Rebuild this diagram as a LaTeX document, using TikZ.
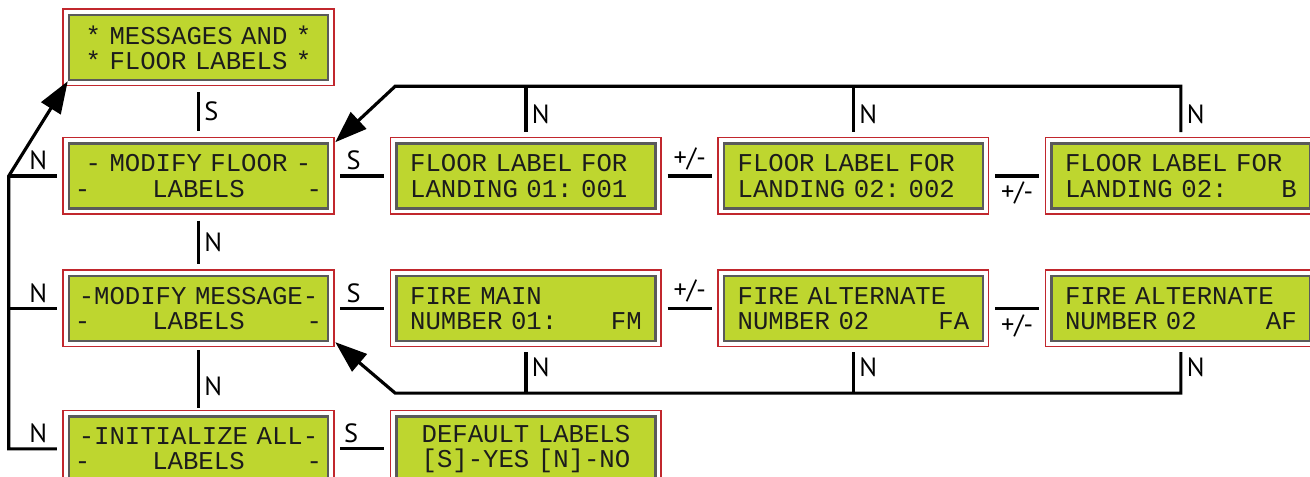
\documentclass[tikz,border=0pt]{standalone}
\usepackage{fontspec}
\setmainfont{PT Sans}
\newfontfamily\lcdfont[WordSpace={1,0,0}]{Liberation Mono}
\newcommand\lcdspacing{\frenchspacing\spaceskip=0.6em\relax}
\usetikzlibrary{positioning,calc,arrows.meta}
\definecolor{lcdred}{HTML}{C1272D}
\definecolor{lcdgreen}{HTML}{BED62F}
\definecolor{lcdframe}{HTML}{5A5A5A}
\definecolor{lcdtext}{HTML}{1C1C1C}

\begin{document}
\begin{tikzpicture}[
  node distance=1.26cm and 1.32cm,
  menubox/.style={rectangle, fill=lcdgreen, draw=lcdframe, line width=1.4pt,
    preaction={draw=lcdred, line width=7.4pt},
    preaction={draw=white, line width=5.7pt},
    minimum width=5.18cm, minimum height=1.3cm, inner sep=0pt,
    text width=140.6pt, align=center, text=lcdtext,
    font=\lcdfont\fontsize{14.6}{14.4}\selectfont\lcdspacing},
  valbox/.style={menubox, text width=131.8pt, align=left},
  line/.style={draw, line width=1.8pt},
  link/.style={line, shorten <=0.22cm, shorten >=0.22cm},
  arrow/.style={line, -{Triangle[length=0.64cm,width=0.45cm]}},
  lbl/.style={font=\fontsize{15}{16}\selectfont, inner sep=2.5pt}
]
\useasboundingbox (0,0) rectangle (26.2,-9.54);

% Menu column
\node[menubox] (msgs) at (3.97,-0.95) {* MESSAGES AND *\\{*} FLOOR LABELS *};
\node[menubox, below=1.22cm of msgs] (floor) {- MODIFY FLOOR -\\-\hfill LABELS\hfill-};
\node[menubox, below=1.3cm of floor] (message) {-MODIFY MESSAGE-\\-\hfill LABELS\hfill-};
\node[menubox, below=1.46cm of message] (init) {-INITIALIZE ALL-\\-\hfill LABELS\hfill-};

% Floor labels
\node[valbox, right=of floor] (fl1) {FLOOR LABEL FOR\\LANDING 01: 001};
\node[valbox, right=of fl1] (fl2) {FLOOR LABEL FOR\\LANDING 02: 002};
\node[valbox, right=of fl2] (fl3) {FLOOR LABEL FOR\\LANDING 02:\hfill B};

% Message labels
\node[valbox, right=of message] (ms1) {FIRE MAIN\\NUMBER 01:\hfill FM};
\node[valbox, right=of ms1] (ms2) {FIRE ALTERNATE\\NUMBER 02\hfill FA};
\node[valbox, right=of ms2] (ms3) {FIRE ALTERNATE\\NUMBER 02\hfill AF};

% Initialize
\node[valbox, right=of init, align=center] (dflt) {DEFAULT LABELS\\{[S]}-YES [N]-NO};

% Helper points
\coordinate[left=1.18cm of floor.west] (trunk);
\coordinate[left=1.18cm of init.west] (trunkend);
\coordinate[above=1.12cm of fl3.north] (looptr);
\coordinate[above=1.12cm of fl1.north west] (looptl);
\coordinate[below=1.02cm of ms3.south] (loopbr);
\coordinate[below=1.02cm of ms1.south west] (loopbl);

% Connectors down the menu
\draw[link] (msgs) -- node[lbl, right]{S} (floor);
\draw[link] (floor) -- node[lbl, right]{N} (message);
\draw[link, shorten <=0.16cm, shorten >=0.14cm] (message) -- node[lbl, right, pos=0.6]{N} (init);

% Left trunk
\draw[arrow, shorten <=0.22cm] (init.west) -- node[lbl, above]{N} (trunkend) -- (trunk) -- (msgs.south west);
\draw[line, shorten >=0.22cm] (trunk) -- node[lbl, above]{N} (floor);
\draw[line, shorten >=0.22cm] (trunk |- message) -- node[lbl, above]{N} (message);

% Floor row
\draw[link] (floor) -- node[lbl, above, pos=0.37]{S} (fl1);
\draw[link] (fl1) -- node[lbl, above]{+/-} (fl2);
\draw[link] (fl2) -- node[lbl, below]{+/-} (fl3);

% Message row
\draw[link] (message) -- node[lbl, above, pos=0.37]{S} (ms1);
\draw[link] (ms1) -- node[lbl, above]{+/-} (ms2);
\draw[link] (ms2) -- node[lbl, below]{+/-} (ms3);

% Initialize row
\draw[link] (init) -- node[lbl, above, pos=0.33]{S} (dflt);

% Top loop
\draw[arrow, shorten <=0.2cm] (fl3.north) -- node[lbl, right]{N} (looptr) -- (looptl) -- ([xshift=0.12cm]floor.north east);
\draw[line, shorten >=0.2cm] (fl1.north |- looptr) -- node[lbl, right]{N} (fl1.north);
\draw[line, shorten >=0.2cm] (fl2.north |- looptr) -- node[lbl, right]{N} (fl2.north);

% Bottom loop
\draw[arrow, shorten <=0.2cm] (ms3.south) -- node[lbl, right]{N} (loopbr) -- (loopbl) -- ([xshift=0.12cm]message.south east);
\draw[line, shorten >=0.2cm] (ms1.south |- loopbr) -- node[lbl, right]{N} (ms1.south);
\draw[line, shorten >=0.2cm] (ms2.south |- loopbr) -- node[lbl, right]{N} (ms2.south);

\end{tikzpicture}
\end{document}
